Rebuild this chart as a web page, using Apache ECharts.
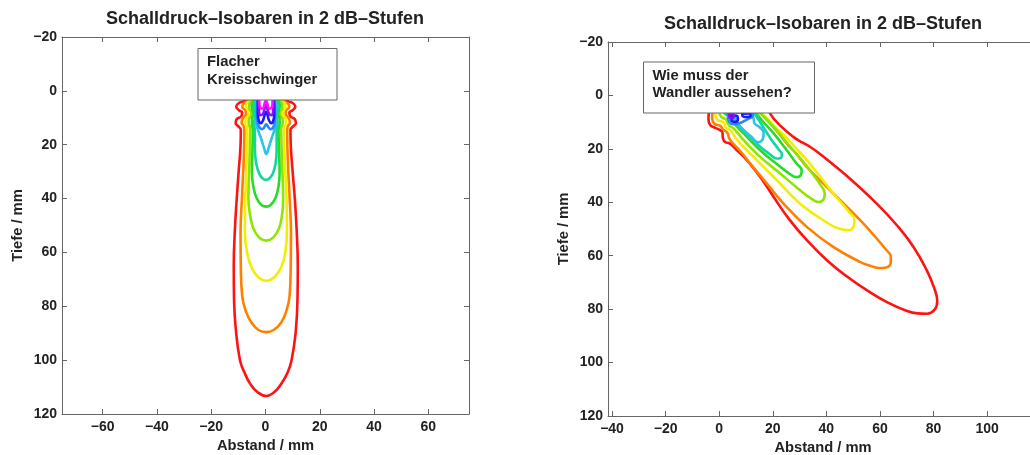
<!DOCTYPE html>
<html>
<head>
<meta charset="utf-8">
<script src="https://cdn.jsdelivr.net/npm/echarts@6/dist/echarts.min.js"></script>
<style>
  html, body { margin: 0; padding: 0; background: #fff; }
  #chart { width: 1030px; height: 455px; }
</style>
</head>
<body>
<div id="chart"></div>
<script>
// Isobar contours, points as [Abstand mm, Tiefe mm]; outermost level first.
// Colours of the 2 dB levels, from lowest (outer) to highest (inner).
const levelColors = ['#ff1212', '#ff8000', '#f2ee00', '#8ee600', '#26dc26',
                     '#12d6a2', '#2cc2ea', '#2a88ff', '#1a1aff', '#8812ff', '#ff12ff'];

const depthTicks = [-20, 0, 20, 40, 60, 80, 100, 120];
const flatXTicks = [-60, -40, -20, 0, 20, 40, 60];
const steerXTicks = [-40, -20, 0, 20, 40, 60, 80, 100];

// --- Flacher Kreisschwinger ---
const flatRed = [[6.5,1.5],[7.5,3.5],[10,4.5],[11,5.8],[10,7.2],[8.8,8],[9.2,9.5],[10.8,10.5],[11.2,12],[10.2,13.2],[9.2,14.5],[9.3,20],[10,30],[10.8,40],[11.5,52],[11.9,65],[11.8,77],[11.1,90],[9.6,100],[8.2,104.5],[6,108.5],[3.3,111.8],[0.3,113.3],[-2.8,112],[-5.5,109],[-7.8,104.5],[-9.4,100],[-10.8,90],[-11.6,77],[-11.7,65],[-11.3,52],[-10.6,40],[-9.9,30],[-9.2,20],[-9.1,14.5],[-10,13.2],[-11,12],[-10.6,10.5],[-9,9.5],[-8.6,8],[-9.8,7.2],[-10.8,5.8],[-9.8,4.5],[-7.3,3.5],[-6.3,1.5]];
const flatOrange = [[5.5,1.5],[6.3,3.5],[8.3,4.8],[8.8,6],[7.6,7.3],[7.4,8.6],[8.6,10.2],[9,11.8],[8.2,13.2],[8,15],[8.2,25],[8.9,40],[9.4,53],[9.3,65],[8.9,76],[7.6,82],[5.8,86],[3,88.8],[0.3,89.6],[-2.6,88.8],[-5.2,86],[-7.2,82],[-8.6,76],[-9.1,65],[-9.2,53],[-8.7,40],[-8,25],[-7.8,15],[-8,13.2],[-8.8,11.8],[-8.4,10.2],[-7.2,8.6],[-7.4,7.3],[-8.6,6],[-8.1,4.8],[-6.1,3.5],[-5.3,1.5]];
const flatYellow = [[5,1.5],[5.6,3.5],[7.2,4.8],[7.4,6.2],[6.4,7.5],[6.5,9],[7.5,10.6],[7.6,12.2],[6.9,13.6],[6.9,18],[7.3,30],[7.8,42],[7.9,52],[7.3,60],[5.8,65.5],[3.2,69.2],[0.3,70.5],[-2.6,69.2],[-5.2,65.5],[-6.8,60],[-7.6,52],[-7.5,42],[-7.1,30],[-6.7,18],[-6.7,13.6],[-7.4,12.2],[-7.3,10.6],[-6.3,9],[-6.2,7.5],[-7.2,6.2],[-7,4.8],[-5.4,3.5],[-4.8,1.5]];
const flatLime = [[4.5,1.5],[5,3.5],[6.2,5],[6.2,6.5],[5.4,7.8],[5.6,9.3],[6.4,10.8],[6.3,12.5],[5.8,14],[5.9,20],[6.3,32],[6.5,40],[6.1,46],[5,51],[2.8,54.5],[0.3,55.6],[-2.3,54.5],[-4.5,51],[-5.7,46],[-6.3,40],[-6.1,32],[-5.7,20],[-5.6,14],[-6.1,12.5],[-6.2,10.8],[-5.4,9.3],[-5.2,7.8],[-6,6.5],[-6,5],[-4.8,3.5],[-4.3,1.5]];
const flatGreen = [[4,1.5],[4.4,3.5],[5.3,5.2],[5,7],[4.6,8.5],[5.2,10.5],[5.2,12.5],[4.8,14.5],[5,22],[5.2,30],[4.8,35.5],[3.6,40],[1.8,42.5],[0.3,43],[-1.4,42.5],[-3.2,40],[-4.5,35.5],[-5,30],[-4.8,22],[-4.6,14.5],[-5,12.5],[-5,10.5],[-4.4,8.5],[-4.8,7],[-5.1,5.2],[-4.2,3.5],[-3.8,1.5]];
const flatTeal = [[3.6,1.5],[4,3.5],[4.5,5.5],[4.2,7.5],[4.1,9.5],[4.4,12],[4.1,15],[4.1,22],[3.7,27],[2.6,31],[1.2,32.7],[0.3,33],[-0.8,32.7],[-2.2,31],[-3.4,27],[-3.9,22],[-3.9,15],[-4.2,12],[-3.9,9.5],[-4,7.5],[-4.3,5.5],[-3.8,3.5],[-3.4,1.5]];
const flatCyan = [[3.3,1.5],[3.7,5],[3.8,9],[3.7,12],[3.3,14.5],[2.3,17.5],[1.2,21],[0.3,23.5],[-0.6,21],[-1.7,17.5],[-2.8,14.5],[-3.4,12],[-3.5,9],[-3.4,5],[-3,1.5]];
const flatSky = [[3,1.5],[3.4,5],[3.5,9],[3.3,11.8],[2.8,13.6],[1.9,14.2],[1.1,13.6],[0.3,12.4],[-0.5,13.6],[-1.3,14.2],[-2.2,13.6],[-2.9,11.8],[-3.2,9],[-3.1,5],[-2.7,1.5]];
const flatBlue = [[2.8,1.5],[3.2,5],[3.2,9],[2.8,11.3],[2.1,12],[1.3,11],[0.6,8.5],[0.2,7.8],[-0.2,8.5],[-0.9,11],[-1.7,12],[-2.4,11.3],[-2.8,9],[-2.8,5],[-2.4,1.5]];
const flatViolet = [[2.5,1.5],[2.9,4.5],[2.8,7.5],[2.2,9],[1.3,8.5],[0.5,6],[0.2,5.2],[-0.2,6],[-0.9,8.5],[-1.8,9],[-2.4,7.5],[-2.5,4.5],[-2.1,1.5]];
const flatMagenta = [[2.2,1.5],[2.6,4],[2.3,6.3],[1.4,6.6],[0.6,4.5],[0.2,3.5],[-0.3,4.5],[-1,6.6],[-1.9,6.3],[-2.3,4],[-1.8,1.5]];

// --- geschwenkter Schallstrahl ---
const steerRed = [[18,3],[19.1,6.9],[23,11.5],[27.8,15.6],[31,17.6],[34,19.3],[37.5,21.8],[41.5,25],[50.2,32.4],[58.9,40.6],[66.4,48.7],[72.6,56.8],[77.5,65.5],[80.4,72.5],[81.4,77],[80.4,80.2],[77.6,81.7],[74,81.6],[70.1,80.7],[62.6,77.4],[55.2,73],[47.7,67.8],[40.3,61.8],[32.8,54.3],[26,46.2],[20.4,38.1],[15.4,30.6],[10.4,24.3],[6.7,20.6],[3.6,17.8],[2.4,17.6],[1.4,16],[1.2,13.8],[0,12.8],[-1.8,12],[-3.3,11.2],[-4,9],[-3.8,6],[-3,3]];
const steerOrange = [[15,3],[16,6.9],[19.1,10.6],[22.5,14.5],[25.3,18.1],[28.5,21.5],[32.8,26.8],[42.7,36.8],[52.7,46.8],[58.3,53],[62,57.4],[64.1,60.5],[64,62.8],[62.3,64.4],[59.8,64.6],[56.8,63.9],[52.7,62.4],[42.7,56.8],[32.8,49.3],[24.1,40.6],[17.9,33.1],[11.7,25.6],[8,21],[5.2,18],[3.8,16.2],[3,14],[1.3,12.6],[0.5,11.4],[-1.8,10.6],[-2.6,8.5],[-2.4,5],[-2,3]];
const steerYellow = [[14,3],[15,6],[17.9,8.6],[21,12],[24.1,14.8],[28,19],[32.8,24.3],[42.7,36.8],[48.3,43.4],[50.5,46.5],[50.2,49],[48.2,50.4],[45.4,50],[41.8,48.6],[30.3,40.6],[21.6,31.8],[14.1,24.3],[8,18.1],[5.5,15],[4.2,13.1],[2.5,12],[1.6,10],[-0.6,9.2],[-1.4,7],[-1.2,3]];
const steerLime = [[13,3],[14,5.5],[16.6,7.8],[20.4,11.9],[26.6,19.3],[31.5,25],[34.2,28.4],[37.8,33.5],[39.4,36.8],[38.8,39.2],[37,39.9],[34.5,38.7],[30.3,35.6],[22.9,29.3],[15.4,23.1],[9.2,16.8],[5.5,12.5],[3.5,11],[2.5,9],[0.8,8],[0,6],[0,3]];
const steerGreen = [[12,3],[13,5.5],[16,9.4],[20.4,14.3],[25.3,20.6],[28.8,25.4],[30.8,28.1],[30.4,30],[28.8,30.6],[26.5,29.5],[22.9,26.8],[15.4,20.6],[9.2,14.3],[6,11],[4.5,9],[3.2,7.5],[1.8,6.5],[1.2,3]];
const steerTeal = [[11,3],[12,5],[15.4,10.2],[19.1,16],[22.2,20.2],[23.4,22],[22.8,23.5],[21.4,23.6],[19.2,22.2],[15.4,19.3],[10.4,14.3],[6.7,10.6],[4.8,8.5],[3.2,6.8],[2.4,3]];
const steerCyan = [[10,3],[11.5,5.5],[12.8,8.5],[13.2,10.5],[15.2,12],[16.6,14],[16.2,16.5],[14.4,17.5],[12,15.5],[9.8,13.6],[8,12],[6.6,10],[5.8,8],[4.2,6.4],[3.6,3]];
const steerSky = [[4,6.4],[7.5,6.5],[9,6.1],[12,5.8],[12.6,7.4],[10.6,8.9],[7.8,10.3],[5.5,10.8],[3.6,9.6],[3.2,7.6]];
const steerBlueA = [[8.6,6.8],[11.2,6.7],[11.7,7.6],[10.2,8.1],[8.7,7.7]];
const steerBlueB = [[4.5,7.4],[6.5,7.6],[7,9],[6,9.9],[4.6,9.4]];
const steerViolet = [[3.7,6.9],[5.3,7.1],[5.4,8.3],[4.2,8.5]];

const flatContours = [flatRed, flatOrange, flatYellow, flatLime, flatGreen, flatTeal,
                      flatCyan, flatSky, flatBlue, flatViolet, flatMagenta];
const steerContours = [[steerRed, 0], [steerOrange, 1], [steerYellow, 2], [steerLime, 3],
                       [steerGreen, 4], [steerTeal, 5], [steerCyan, 6], [steerSky, 7],
                       [steerBlueA, 8], [steerBlueB, 8], [steerViolet, 9]];

const FONT = 'Liberation Sans, Arial, Helvetica, sans-serif';
const AXIS_COLOR = '#666';
const TEXT_COLOR = '#222';
const minus = v => String(v).replace('-', '\u2212');

function closed(points) {
  return points.concat([points[0]]);
}

function contourSeries(points, colorIdx, axis) {
  return {
    type: 'line',
    xAxisIndex: axis,
    yAxisIndex: axis,
    data: closed(points),
    showSymbol: false,
    symbol: 'none',
    smooth: 0.45,
    silent: true,
    clip: true,
    z: 2,
    lineStyle: { color: levelColors[colorIdx], width: 2.6, cap: 'round', join: 'round' }
  };
}

function xAxes(gridIndex, min, max, ticks) {
  const base = {
    type: 'value', gridIndex, min, max,
    splitLine: { show: false },
    axisLine: { show: true, onZero: false, lineStyle: { color: AXIS_COLOR, width: 1 } },
    axisTick: { show: true, inside: true, length: 5, customValues: ticks,
                lineStyle: { color: AXIS_COLOR } }
  };
  return [
    Object.assign({}, base, {
      position: 'bottom',
      axisLabel: { show: true, customValues: ticks, margin: 6, formatter: minus,
                   color: TEXT_COLOR, fontFamily: FONT, fontSize: 14, fontWeight: 'bold' },
      name: 'Abstand / mm', nameLocation: 'middle', nameGap: 22,
      nameTextStyle: { color: TEXT_COLOR, fontFamily: FONT, fontSize: 14.7, fontWeight: 'bold' }
    }),
    Object.assign({}, base, { position: 'top', axisLabel: { show: false } })
  ];
}

function yAxes(gridIndex) {
  const base = {
    type: 'value', gridIndex, min: -20, max: 120, interval: 20, inverse: true,
    splitLine: { show: false },
    axisLine: { show: true, onZero: false, lineStyle: { color: AXIS_COLOR, width: 1 } },
    axisTick: { show: true, inside: true, length: 5, lineStyle: { color: AXIS_COLOR } }
  };
  return [
    Object.assign({}, base, {
      position: 'left',
      axisLabel: { show: true, margin: 5, formatter: minus, showMinLabel: true, showMaxLabel: true,
                   color: TEXT_COLOR, fontFamily: FONT, fontSize: 14, fontWeight: 'bold' },
      name: 'Tiefe / mm', nameLocation: 'middle', nameGap: 37, nameRotate: 90,
      nameTextStyle: { color: TEXT_COLOR, fontFamily: FONT, fontSize: 14.7, fontWeight: 'bold' }
    }),
    Object.assign({}, base, { position: 'right', axisLabel: { show: false } })
  ];
}

// Annotation box drawn on top of the contour lines
function noteBox(x, y, w, h, text) {
  return {
    type: 'group', z: 100, zlevel: 0,
    children: [
      { type: 'rect', z: 100, shape: { x, y, width: w, height: h },
        style: { fill: '#fff', stroke: AXIS_COLOR, lineWidth: 1 } },
      { type: 'text', z: 101, x: x + 9, y: y + 5,
        style: { text, fill: TEXT_COLOR, font: 'bold 14.8px ' + FONT,
                 lineHeight: 17.5, textVerticalAlign: 'top', textAlign: 'left' } }
    ]
  };
}

const chart = echarts.init(document.getElementById('chart'), null, { renderer: 'canvas' });

const series = [];
flatContours.forEach((c, i) => series.push(contourSeries(c, i, 0)));
steerContours.forEach(([c, i]) => series.push(contourSeries(c, i, 2)));

const [fx0, fx1] = xAxes(0, -75, 75, flatXTicks);
const [sx0, sx1] = xAxes(1, -41.5, 119, steerXTicks);
const [fy0, fy1] = yAxes(0);
const [sy0, sy1] = yAxes(1);

chart.setOption({
  animation: false,
  backgroundColor: '#fff',
  title: [
    { text: 'Schalldruck\u2013Isobaren in 2 dB\u2013Stufen', left: 265, top: 10, textAlign: 'center', padding: 0,
      textStyle: { color: TEXT_COLOR, fontFamily: FONT, fontSize: 18, fontWeight: 'bold' } },
    { text: 'Schalldruck\u2013Isobaren in 2 dB\u2013Stufen', left: 823, top: 15, textAlign: 'center', padding: 0,
      textStyle: { color: TEXT_COLOR, fontFamily: FONT, fontSize: 18, fontWeight: 'bold' } }
  ],
  grid: [
    { left: 62, top: 37, width: 407, height: 377, containLabel: false, outerBoundsMode: 'none' },
    { left: 608, top: 42, width: 430, height: 374, containLabel: false, outerBoundsMode: 'none' }
  ],
  xAxis: [fx0, fx1, sx0, sx1],
  yAxis: [fy0, fy1, sy0, sy1],
  series,
  graphic: {
    elements: [
      noteBox(198, 48.5, 139, 51.5, 'Flacher\nKreisschwinger'),
      noteBox(643.5, 62, 171, 51, 'Wie muss der\nWandler aussehen?')
    ]
  }
});
</script>
</body>
</html>
